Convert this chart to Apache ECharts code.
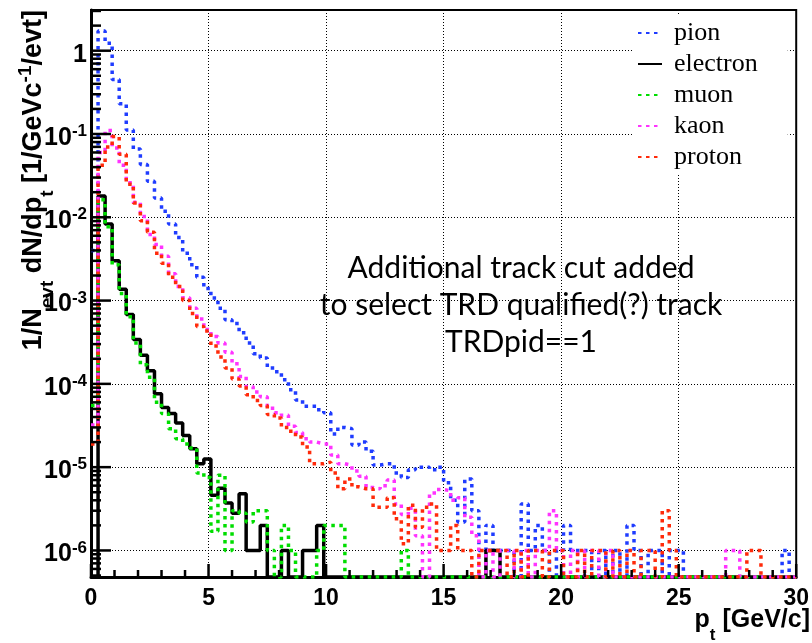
<!DOCTYPE html>
<html>
<head>
<meta charset="utf-8">
<title>pt spectra</title>
<script src="https://cdn.jsdelivr.net/npm/echarts@6/dist/echarts.min.js"></script>
<style>
html,body{margin:0;padding:0;background:#fff;}
#main{width:812px;height:643px;}
</style>
</head>
<body>
<div id="main"></div>
<script>
// histogram binning: 100 bins of 0.3 GeV/c from 0 to 30
var binWidth = 0.3;

var pion = [0.004, 1.72, 1.23, 0.45, 0.23, 0.112, 0.066, 0.043, 0.027, 0.017,
  0.0118, 0.0083, 0.0057, 0.0037, 0.0027, 0.0019, 0.0014, 0.00107, 0.00081, 0.00059,
  5.3e-4, 4.1e-4, 3.1e-4, 2.3e-4, 2.05e-4, 1.55e-4, 1.4e-4, 1.12e-4, 8.5e-5, 6.4e-5,
  5.4e-5, 5.4e-5, 4.9e-5, 4.5e-5, 2.5e-5, 3.0e-5, 2.9e-5, 1.85e-5, 2.0e-5, 1.55e-5,
  1.06e-5, 1.1e-5, 1.1e-5, 8.5e-6, 7.5e-6, 9.3e-6, 1.0e-5, 1.0e-5, 9.3e-6, 1.0e-5,
  6.5e-6, 4.0e-6, 2.2e-6, 7.2e-6, 3.0e-6, 1e-6, 2e-6, 1e-6, 1e-6, 1e-6,
  0, 3.6e-6, 1e-6, 2e-6, 1e-6, 0, 1e-6, 2e-6, 1e-6, 1e-6,
  1e-6, 0, 1e-6, 0, 1e-6, 0, 2e-6, 1e-6, 0, 1e-6,
  1e-6, 0, 1e-6, 1e-6, 0, 0, 0, 0, 0, 0,
  0, 0, 0, 0, 0, 0, 0, 0, 1e-6, 0];

var electron = [0, 0.018, 0.0083, 0.003, 0.00137, 6.8e-4, 3.4e-4, 2.2e-4, 1.44e-4, 7.6e-5,
  5.2e-5, 4.4e-5, 3.4e-5, 2.4e-5, 1.66e-5, 1.1e-5, 1.25e-5, 4.6e-6, 5.6e-6, 3.7e-6,
  2.8e-6, 4.8e-6, 1e-6, 1e-6, 2e-6, 0, 0, 1e-6, 0, 0,
  1e-6, 1e-6, 2e-6, 0, 0, 0, 0, 0, 0, 0,
  0, 0, 0, 0, 0, 0, 0, 0, 0, 0,
  0, 0, 0, 0, 0, 0, 1e-6, 1e-6, 0, 0,
  0, 0, 0, 0, 0, 0, 0, 0, 0, 0,
  0, 0, 0, 0, 0, 0, 0, 0, 0, 0,
  0, 0, 0, 0, 0, 0, 0, 0, 0, 0,
  0, 0, 0, 0, 0, 0, 0, 0, 0, 0];

var muon = [5.5e-5, 0.0162, 0.0077, 0.0027, 0.00122, 6.4e-4, 3.1e-4, 1.7e-4, 1.2e-4, 6.0e-5,
  4.4e-5, 2.9e-5, 2.2e-5, 1.9e-5, 1.7e-5, 8.5e-6, 7.5e-6, 1.7e-6, 8e-6, 1e-6,
  3e-6, 2.8e-6, 2.2e-6, 3e-6, 3e-6, 1e-6, 0, 2e-6, 1e-6, 0,
  0, 0, 1e-6, 2e-6, 2e-6, 2e-6, 0, 0, 0, 0,
  0, 0, 0, 0, 1e-6, 0, 0, 0, 0, 0,
  0, 0, 0, 0, 0, 0, 0, 0, 0, 0,
  0, 0, 0, 0, 0, 0, 0, 0, 0, 0,
  0, 0, 0, 0, 0, 0, 0, 0, 0, 0,
  0, 0, 0, 0, 0, 0, 0, 0, 0, 0,
  0, 0, 0, 0, 0, 0, 0, 0, 0, 0];

var kaon = [3.2e-5, 0.06, 0.11, 0.068, 0.042, 0.026, 0.0152, 0.0102, 0.0062, 0.0047,
  0.0034, 0.0021, 0.00148, 0.00108, 8.1e-4, 6.0e-4, 4.5e-4, 3.7e-4, 3.1e-4, 2.4e-4,
  1.74e-4, 1.23e-4, 9.3e-5, 8.0e-5, 7.0e-5, 5.1e-5, 4.5e-5, 4.2e-5, 3.1e-5, 2.6e-5,
  2.2e-5, 2.0e-5, 1.9e-5, 1.9e-5, 1.4e-5, 1.1e-5, 1.05e-5, 9e-6, 7.8e-6, 5.7e-6,
  5.5e-6, 6e-6, 7e-6, 3.6e-6, 2.7e-6, 3.2e-6, 1.5e-6, 0, 4.9e-6, 5.4e-6,
  5.2e-6, 4e-6, 4.3e-6, 2.5e-6, 1.5e-6, 0, 1e-6, 0, 1e-6, 1e-6,
  0, 1e-6, 0, 1e-6, 1e-6, 3e-6, 1e-6, 0, 1e-6, 0,
  1e-6, 1e-6, 0, 1e-6, 0, 0, 0, 0, 0, 0,
  0, 0, 0, 0, 0, 0, 0, 0, 0, 0,
  1e-6, 1e-6, 0, 0, 0, 0, 0, 0, 0, 0];

var proton = [1.9e-5, 0.042, 0.07, 0.093, 0.057, 0.025, 0.0148, 0.0091, 0.0066, 0.0037,
  0.0028, 0.0019, 0.00148, 0.001, 7.0e-4, 4.9e-4, 4.3e-4, 2.85e-4, 2.1e-4, 1.55e-4,
  1.14e-4, 9.4e-5, 7.4e-5, 6.3e-5, 5.5e-5, 4.3e-5, 3.9e-5, 3.0e-5, 2.7e-5, 2.3e-5,
  1.75e-5, 1.1e-5, 1.1e-5, 1.15e-5, 8.5e-6, 5.5e-6, 7.2e-6, 5.8e-6, 5.5e-6, 5.5e-6,
  3.3e-6, 3.3e-6, 4.3e-6, 2.4e-6, 1.2e-6, 3.5e-6, 1.9e-6, 3.3e-6, 3.6e-6, 1e-6,
  1e-6, 2e-6, 1e-6, 1e-6, 0, 1e-6, 1e-6, 1e-6, 1e-6, 0,
  1e-6, 0, 1e-6, 1e-6, 0, 1e-6, 1e-6, 0, 0, 1e-6,
  0, 1e-6, 1e-6, 0, 1e-6, 0, 1e-6, 0, 1e-6, 1e-6,
  0, 3e-6, 1e-6, 0, 0, 0, 0, 0, 0, 0,
  0, 0, 0, 1e-6, 1e-6, 0, 0, 0, 0, 0];

var seriesNames = ['pion', 'electron', 'muon', 'kaon', 'proton'];
var seriesColors = ['#1f3cff', '#000000', '#00dd00', '#ff33ff', '#ff2a0a'];

var yMin = 4.8e-7, yMax = 3.08;

// tick marks (drawn inside the frame, ROOT style)
var xMajorTicks = [0, 5, 10, 15, 20, 25, 30];
var xMinorTicks = [1, 2, 3, 4, 6, 7, 8, 9, 11, 12, 13, 14, 16, 17, 18, 19, 21, 22, 23, 24, 26, 27, 28, 29];
var yMajorTicks = [1e-6, 1e-5, 1e-4, 1e-3, 1e-2, 1e-1, 1];
var yMinorTicks = [];
for (var ex = -7; ex <= 0; ex++) {
  for (var m = 2; m <= 9; m++) {
    var tv = m * Math.pow(10, ex);
    if (tv > yMin && tv < yMax) yMinorTicks.push(tv);
  }
}

// turn bin contents into step points; empty bins sit on the frame floor
function toSteps(vals) {
  var out = [];
  for (var i = 0; i < vals.length; i++) {
    out.push([+(i * binWidth).toFixed(2), vals[i] > 0 ? vals[i] : yMin]);
  }
  var last = vals[vals.length - 1];
  out.push([+(vals.length * binWidth).toFixed(2), last > 0 ? last : yMin]);
  return out;
}

var allData = [pion, electron, muon, kaon, proton];
var series = [];
for (var k = 0; k < allData.length; k++) {
  series.push({
    name: seriesNames[k],
    type: 'line',
    step: 'end',
    symbol: 'none',
    clip: true,
    data: toSteps(allData[k]),
    lineStyle: {
      color: seriesColors[k],
      width: 3.5,
      type: k === 1 ? 'solid' : [3.5, 4.5]
    },
    itemStyle: {color: seriesColors[k]}
  });
}

function tickSeries(points, horizontal, len) {
  return {
    type: 'custom',
    silent: true,
    clip: false,
    z: 5,
    data: points,
    renderItem: function (params, api) {
      var p = api.coord([api.value(0), api.value(1)]);
      var shape = horizontal
        ? {x1: p[0], y1: p[1], x2: p[0] + len, y2: p[1]}
        : {x1: p[0], y1: p[1], x2: p[0], y2: p[1] - len};
      return {type: 'line', shape: shape, style: {stroke: '#000', lineWidth: 2.5}};
    }
  };
}

series.push(tickSeries(xMajorTicks.map(function (v) { return [v, yMin]; }), false, 13));
series.push(tickSeries(xMinorTicks.map(function (v) { return [v, yMin]; }), false, 7));
series.push(tickSeries(yMajorTicks.map(function (v) { return [0, v]; }), true, 20));
series.push(tickSeries(yMinorTicks.map(function (v) { return [0, v]; }), true, 10));

var bold = 'Liberation Sans';

var myChart = echarts.init(document.getElementById('main'));
var option = {
  animation: false,
  backgroundColor: '#fff',
  grid: {
    left: 91, right: 1, top: 10, bottom: 66,
    show: true, borderColor: '#000', borderWidth: 2
  },
  legend: {
    orient: 'vertical',
    left: 632, top: 15,
    padding: [5, 30, 5, 5],
    backgroundColor: '#fff',
    itemWidth: 24, itemHeight: 14, itemGap: 5,
    itemStyle: {opacity: 0, borderWidth: 0},
    textStyle: {fontFamily: 'Liberation Serif', fontSize: 26, color: '#000', padding: [0, 0, 0, 7]},
    data: seriesNames
  },
  xAxis: {
    type: 'value',
    min: 0, max: 30, interval: 5,
    axisLine: {show: true, lineStyle: {color: '#000', width: 3}},
    axisTick: {show: false},
    minorTick: {show: false},
    splitLine: {show: true, lineStyle: {color: '#000', type: [1, 2], width: 1}},
    axisLabel: {margin: 10, fontSize: 23, fontWeight: 'bold', fontFamily: bold, color: '#000'}
  },
  yAxis: {
    type: 'log',
    logBase: 10,
    min: yMin, max: yMax,
    axisLine: {show: true, lineStyle: {color: '#000', width: 3}},
    axisTick: {show: false},
    minorTick: {show: false},
    splitLine: {show: true, lineStyle: {color: '#000', type: [1, 2], width: 1}},
    axisLabel: {
      margin: 4,
      showMinLabel: false, showMaxLabel: false,
      padding: [8, 0, 0, 0],
      formatter: function (v) {
        var e = Math.round(Math.log10(v));
        if (e === 0) return '{b|1}';
        return '{b|10}{s|' + e + '}';
      },
      rich: {
        b: {fontSize: 25, fontWeight: 'bold', fontFamily: bold, color: '#000'},
        s: {fontSize: 17, fontWeight: 'bold', fontFamily: bold, color: '#000', padding: [0, 0, 13, 0]}
      }
    }
  },
  graphic: [
    {
      type: 'text',
      x: 34, y: 10,
      rotation: Math.PI / 2,
      style: {
        text: '{b|1/N}{sub|evt}{b| dN/dp}{sub|t}{b| [1/GeVc}{sup|-1}{b|/evt]}',
        align: 'right', verticalAlign: 'middle',
        textAlign: 'right', textVerticalAlign: 'middle',
        rich: {
          b: {fontSize: 27, fontWeight: 'bold', fontFamily: bold, fill: '#000'},
          sub: {fontSize: 19, fontWeight: 'bold', fontFamily: bold, fill: '#000', padding: [28, 0, 0, 0]},
          sup: {fontSize: 19, fontWeight: 'bold', fontFamily: bold, fill: '#000', padding: [0, 0, 17, 0]}
        }
      }
    },
    {
      type: 'text',
      x: 810, y: 620,
      style: {
        text: '{b|p}{sub|t}{b| [GeV/c]}',
        align: 'right', verticalAlign: 'middle',
        textAlign: 'right', textVerticalAlign: 'middle',
        rich: {
          b: {fontSize: 25, fontWeight: 'bold', fontFamily: bold, fill: '#000'},
          sub: {fontSize: 17, fontWeight: 'bold', fontFamily: bold, fill: '#000', padding: [30, 0, 0, 0]}
        }
      }
    },
    {
      type: 'text',
      x: 521, y: 305,
      style: {
        text: 'Additional track cut added\nto select TRD qualified(?) track\nTRDpid==1',
        align: 'center', verticalAlign: 'middle',
        textAlign: 'center', textVerticalAlign: 'middle',
        fontFamily: 'Lato', fontSize: 30, lineHeight: 37, fill: '#000'
      }
    }
  ],
  series: series
};
myChart.setOption(option);
</script>
</body>
</html>
